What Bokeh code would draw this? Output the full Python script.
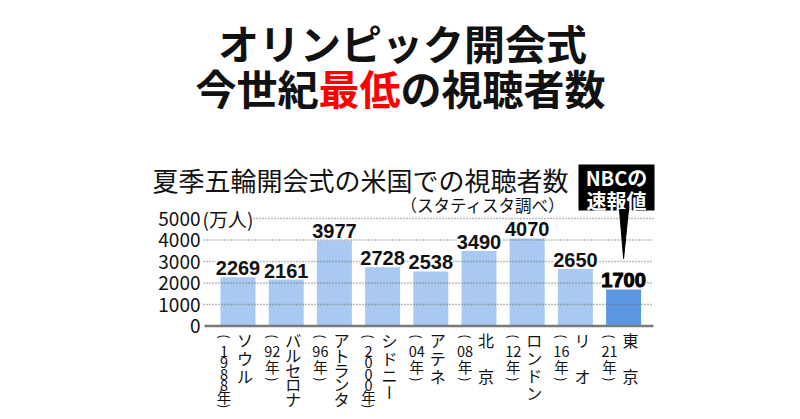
import numpy as np
from bokeh.plotting import figure
from bokeh.models import Range1d, ColumnDataSource
from bokeh.core.properties import value
from bokeh.embed import file_html
from bokeh.resources import INLINE

# ---------------- data ----------------
cities = ["ソウル", "バルセロナ", "アトランタ", "シドニー", "アテネ", "北京", "ロンドン", "リオ", "東京"]
years = ["1988年", "92年", "96年", "2000年", "04年", "08年", "12年", "16年", "21年"]
viewers = [2269, 2161, 3977, 2728, 2538, 3490, 4070, 2650, 1700]
preliminary = [False, False, False, False, False, False, False, False, True]
y_ticks = [0, 1000, 2000, 3000, 4000, 5000]
unit_label = "(万人)"
title_line1 = "オリンピック開会式"
title_line2 = ["今世紀", "最低", "の視聴者数"]
title_line2_colors = ["#111111", "#ff0000", "#111111"]
subtitle = "夏季五輪開会式の米国での視聴者数"
source_note = "（スタティスタ調べ）"
callout = ["NBCの", "速報値"]

# ---------------- layout ----------------
W, H = 792, 411
BAR0_PX = 237.5          # pixel x of first bar centre
BAR_STEP = 48.2          # pixels between bar centres
ZERO_PX = 325.5          # pixel y of value 0
PX_PER_UNIT = 107.5 / 5000.0

SANS = value("'Noto Sans CJK JP', 'Noto Sans', sans-serif")
NUM = value("'Liberation Sans', Arial, sans-serif")


def fx(px):
    return (px - BAR0_PX) / BAR_STEP


def fy(py):
    return (ZERO_PX - py) / PX_PER_UNIT


def dxu(px):
    return px / BAR_STEP


def dyu(px):
    return px / PX_PER_UNIT


p = figure(width=W, height=H,
           x_range=Range1d(-BAR0_PX / BAR_STEP, (W - BAR0_PX) / BAR_STEP),
           y_range=Range1d(-(H - ZERO_PX) / PX_PER_UNIT, ZERO_PX / PX_PER_UNIT),
           output_backend="svg", toolbar_location=None,
           x_axis_location=None, y_axis_location=None,
           min_border=0, outline_line_color=None,
           background_fill_color="white", border_fill_color="white")
p.grid.visible = False

idx = np.arange(len(cities))

# bars
bar_colors = ["#5b97e0" if f else "#a9c9f3" for f in preliminary]
p.vbar(x=idx, top=viewers, bottom=0, width=35 / BAR_STEP,
       fill_color=bar_colors, line_color=None)

# dotted grid lines (drawn over the bars)
grid_vals = [t for t in y_ticks if t > 0]
grid_x0 = [fx(253) if t == max(y_ticks) else fx(203) for t in grid_vals]
p.segment(x0=grid_x0, y0=grid_vals, x1=[fx(653)] * len(grid_vals), y1=grid_vals,
          line_color="#777777", line_width=1.3, line_dash="1 2")
# base line
p.segment(x0=[fx(204)], y0=[0], x1=[fx(653)], y1=[0],
          line_color="#7a7a7a", line_width=2.5)

# y tick labels
p.text(x=[fx(200)] * len(y_ticks), y=y_ticks, text=[str(t) for t in y_ticks],
       text_align="right", text_baseline="middle", text_font=SANS,
       text_font_size="19px", text_color="#111111")
p.text(x=[fx(202)], y=[max(y_ticks)], text=[unit_label],
       text_align="left", text_baseline="middle", text_font=SANS,
       text_font_size="19px", text_color="#111111")

# value labels
norm = [i for i, f in enumerate(preliminary) if not f]
prel = [i for i, f in enumerate(preliminary) if f]
p.text(x=[idx[i] for i in norm], y=[viewers[i] + dyu(2) for i in norm],
       text=[str(viewers[i]) for i in norm],
       text_align="center", text_baseline="bottom", text_font=NUM,
       text_font_size="20px", text_font_style="bold", text_color="#111111",
       background_fill_color="white")
p.text(x=[idx[i] for i in prel], y=[viewers[i] + dyu(2) for i in prel],
       text=[str(viewers[i]) for i in prel],
       text_align="center", text_baseline="bottom", text_font=NUM,
       text_font_size="20px", text_font_style="bold", text_color="#000000",
       text_outline_color="#000000", background_fill_color="white")

# callout box
p.quad(left=[fx(578)], right=[fx(654)], top=[fy(164)], bottom=[fy(210)],
       fill_color="black", line_color=None)
p.text(x=[fx(616), fx(616)], y=[fy(176.5), fy(199.5)], text=callout,
       text_align="center", text_baseline="middle", text_font=SANS,
       text_font_size="20px", text_font_style="bold", text_color="white")
tip_i = prel[0]
p.patch(x=[fx(619), fx(628), tip_i], y=[fy(209), fy(209), fy(258)],
        fill_color="black", line_color="black", line_width=1)

# titles
TFS = 41
p.text(x=[fx(402)], y=[fy(41)], text=[title_line1], text_align="center",
       text_baseline="middle", text_font=SANS, text_font_size=f"{TFS}px",
       text_font_style="bold", text_color="#111111")
n_total = sum(len(s) for s in title_line2)
start = 400 - n_total * TFS / 2
xs2, acc = [], 0
for s in title_line2:
    xs2.append(fx(start + acc * TFS))
    acc += len(s)
p.text(x=xs2, y=[fy(86)] * len(title_line2), text=title_line2, text_align="left",
       text_baseline="middle", text_font=SANS, text_font_size=f"{TFS}px",
       text_font_style="bold", text_color=title_line2_colors)

p.text(x=[fx(152)], y=[fy(179)], text=[subtitle], text_align="left",
       text_baseline="middle", text_font=SANS, text_font_size="26px",
       text_color="#111111")
p.text(x=[fx(565)], y=[fy(204)], text=[source_note], text_align="right",
       text_baseline="middle", text_font=SANS, text_font_size="16.5px",
       text_color="#111111")

# vertical category labels (tategaki)
CITY_PITCH = {2: 36, 3: 18, 4: 17.5, 5: 14.8}
rows = dict(x=[], y=[], text=[], angle=[], size=[])


def put(xv, py, ch, rot, size):
    rows["x"].append(xv)
    rows["y"].append(fy(py))
    rows["text"].append(ch)
    rows["angle"].append(-np.pi / 2 if rot else 0.0)
    rows["size"].append(size)


for i, (c, yr) in enumerate(zip(cities, years)):
    pitch = CITY_PITCH[len(c)]
    for k, ch in enumerate(c):
        put(i + dxu(7), 339.5 + k * pitch, ch, ch == "ー", "16px")
    num = yr[:-1]
    content = list(num) if len(num) == 4 else [num]
    content.append(yr[-1])
    cp = 11.3 if len(num) == 4 else 15
    close_gap = 9.5 if len(num) == 4 else 13
    xc = i - dxu(14)
    put(xc, 336, "(", True, "13px")
    for k, s in enumerate(content):
        put(xc, 351 + k * cp, s, False, "14.5px")
    put(xc, 351 + (len(content) - 1) * cp + close_gap, ")", True, "13px")

src = ColumnDataSource(rows)
p.text(x="x", y="y", text="text", angle="angle", text_font_size="size", source=src,
       text_align="center", text_baseline="middle", text_font=SANS,
       text_color="#111111")

open("out.html", "w").write(file_html(p, INLINE))
